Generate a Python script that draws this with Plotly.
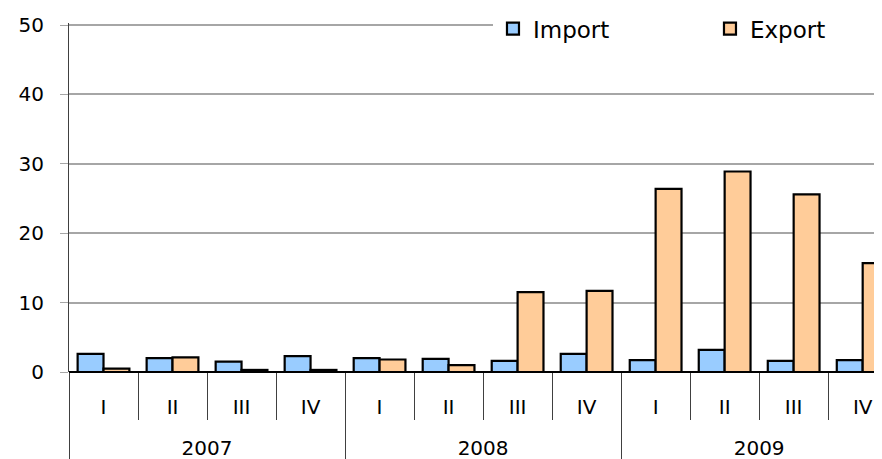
import plotly.graph_objects as go

years = ["2007"] * 4 + ["2008"] * 4 + ["2009"] * 4
quarters = ["I", "II", "III", "IV"] * 3
import_vals = [2.6, 2.0, 1.5, 2.3, 2.0, 1.9, 1.6, 2.6, 1.7, 3.2, 1.6, 1.7]
export_vals = [0.5, 2.1, 0.3, 0.3, 1.8, 1.0, 11.5, 11.7, 26.4, 28.9, 25.6, 15.7]
y_ticks = [0, 10, 20, 30, 40, 50]

FONT = "DejaVu Sans"

# label spacing helpers for the two-level category axis (text itself unchanged)
PAD = "<span style='font-size:29px'>\u00a0</span>"
year_lbl = ["\u00a0<br>" + y for y in years]
quarter_lbl = [PAD + q + PAD for q in quarters]
xcats = [year_lbl, quarter_lbl]

fig = go.Figure()
fig.add_trace(go.Bar(
    x=xcats, y=import_vals, name="Import",
    marker=dict(color="#99CCFF", line=dict(color="black", width=2.2)),
))
fig.add_trace(go.Bar(
    x=xcats, y=export_vals, name="Export",
    marker=dict(color="#FFCC99", line=dict(color="black", width=2.2)),
))

fig.update_layout(
    width=882, height=459,
    margin=dict(l=61, r=8, t=15, b=95, autoexpand=False),
    paper_bgcolor="white", plot_bgcolor="white",
    barmode="group", bargap=0.25, bargroupgap=0,
    font=dict(family=FONT, size=20, color="black"),
    showlegend=True,
    legend=dict(
        orientation="h", x=0.5215, y=0.984, xanchor="left", yanchor="middle",
        bgcolor="white", font=dict(size=23, family=FONT),
        entrywidth=172, entrywidthmode="pixels",
    ),
    xaxis=dict(
        type="multicategory", range=[-0.5, 11.28], automargin=False,
        showgrid=False, showline=False,
        ticks="outside", tickson="boundaries", ticklen=47,
        tickcolor="#404040", tickwidth=1,
        showdividers=True, dividercolor="#404040", dividerwidth=1,
        ticklabelstandoff=21,
        tickfont=dict(size=20, family=FONT),
    ),
    yaxis=dict(
        range=[0, 50.3], tickvals=y_ticks, automargin=False,
        showgrid=True, gridcolor="#A6A6A6", gridwidth=1.5,
        showline=True, linecolor="#404040", linewidth=1,
        ticks="outside", ticklen=8, tickcolor="#A6A6A6",
        ticklabelstandoff=12,
        zeroline=True, zerolinecolor="black", zerolinewidth=1.5,
        tickfont=dict(size=20, family=FONT),
    ),
)

fig.write_html("out.html")
